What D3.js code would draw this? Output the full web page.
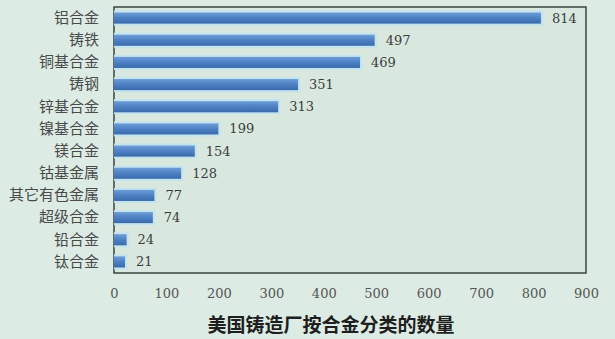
<!DOCTYPE html>
<html>
<head>
<meta charset="utf-8">
<script src="https://cdn.jsdelivr.net/npm/d3@7"></script>
<style>
  body { margin: 0; background: #dcebe3; }
  svg { display: block; }
</style>
</head>
<body>
<svg id="chart" width="615" height="339"></svg>
<script>
// alloy categories, top to bottom
var categories = ["铝合金", "铸铁", "铜基合金", "铸钢", "锌基合金", "镍基合金", "镁合金", "钴基金属", "其它有色金属", "超级合金", "铅合金", "钛合金"];
var counts = [814, 497, 469, 351, 313, 199, 154, 128, 77, 74, 24, 21];
var tickValues = [0, 100, 200, 300, 400, 500, 600, 700, 800, 900];
var title = "美国铸造厂按合金分类的数量";

var svg = d3.select("#chart"),
    plotLeft = 114, plotRight = 586, plotTop = 7, plotBottom = 273;

var x = d3.scaleLinear().domain([0, 900]).range([plotLeft, plotRight]);
var y = d3.scaleBand().domain(categories).range([plotTop, plotBottom]).paddingInner(0.5).paddingOuter(0.25);

// background
svg.append("rect").attr("width", 615).attr("height", 339).attr("fill", "#dcebe3");
svg.append("rect").attr("x", plotLeft).attr("y", plotTop).attr("width", plotRight - plotLeft).attr("height", plotBottom - plotTop)
  .attr("fill", "#d8e8df").attr("stroke", "#3a4440").attr("stroke-width", 1.5);

// bar gradient
var grad = svg.append("defs").append("linearGradient").attr("id", "barGrad")
  .attr("x1", 0).attr("y1", 0).attr("x2", 0).attr("y2", 1);
grad.append("stop").attr("offset", "0%").attr("stop-color", "#6f9dd6");
grad.append("stop").attr("offset", "45%").attr("stop-color", "#4f83c6");
grad.append("stop").attr("offset", "100%").attr("stop-color", "#3a6aaa");

var rows = categories.map(function(c, i) { return { name: c, value: counts[i] }; });

// bars (light halo like the picture)
svg.append("g").selectAll("rect").data(rows).enter().append("rect")
  .attr("x", x(0))
  .attr("y", function(d) { return y(d.name) - 2; })
  .attr("width", function(d) { return x(d.value) - x(0) + 2; })
  .attr("height", y.bandwidth() + 4)
  .attr("fill", "#c2e3ef");

svg.append("g").selectAll("rect").data(rows).enter().append("rect")
  .attr("x", x(0))
  .attr("y", function(d) { return y(d.name); })
  .attr("width", function(d) { return x(d.value) - x(0); })
  .attr("height", y.bandwidth())
  .attr("fill", "url(#barGrad)");

// value labels
svg.append("g").selectAll("text").data(rows).enter().append("text")
  .attr("x", function(d) { return x(d.value) + 11; })
  .attr("y", function(d) { return y(d.name) + y.bandwidth() / 2; })
  .attr("dy", "0.35em")
  .attr("font-family", "DejaVu Serif, serif")
  .attr("font-size", 13)
  .attr("fill", "#3c3c3c")
  .text(function(d) { return d.value; });

// category axis
var yAxis = svg.append("g").attr("transform", "translate(" + (plotLeft - 15) + ",0)")
  .call(d3.axisLeft(y).tickSize(0).tickPadding(0));
yAxis.select(".domain").remove();
yAxis.selectAll("text")
  .attr("font-family", "Noto Sans CJK SC, sans-serif")
  .attr("font-size", 15)
  .attr("fill", "#4a4a4a");

// value axis
var xAxis = svg.append("g").attr("transform", "translate(0," + plotBottom + ")")
  .call(d3.axisBottom(x).tickValues(tickValues).tickSize(0).tickPadding(16));
xAxis.select(".domain").remove();
xAxis.selectAll("text")
  .attr("font-family", "DejaVu Serif, serif")
  .attr("font-size", 13)
  .attr("fill", "#555");

// title
svg.append("text")
  .attr("x", 331).attr("y", 332)
  .attr("text-anchor", "middle")
  .attr("font-family", "Noto Sans CJK SC, sans-serif")
  .attr("font-weight", "bold")
  .attr("font-size", 19)
  .attr("fill", "#1e1e1e")
  .text(title);
</script>
</body>
</html>
